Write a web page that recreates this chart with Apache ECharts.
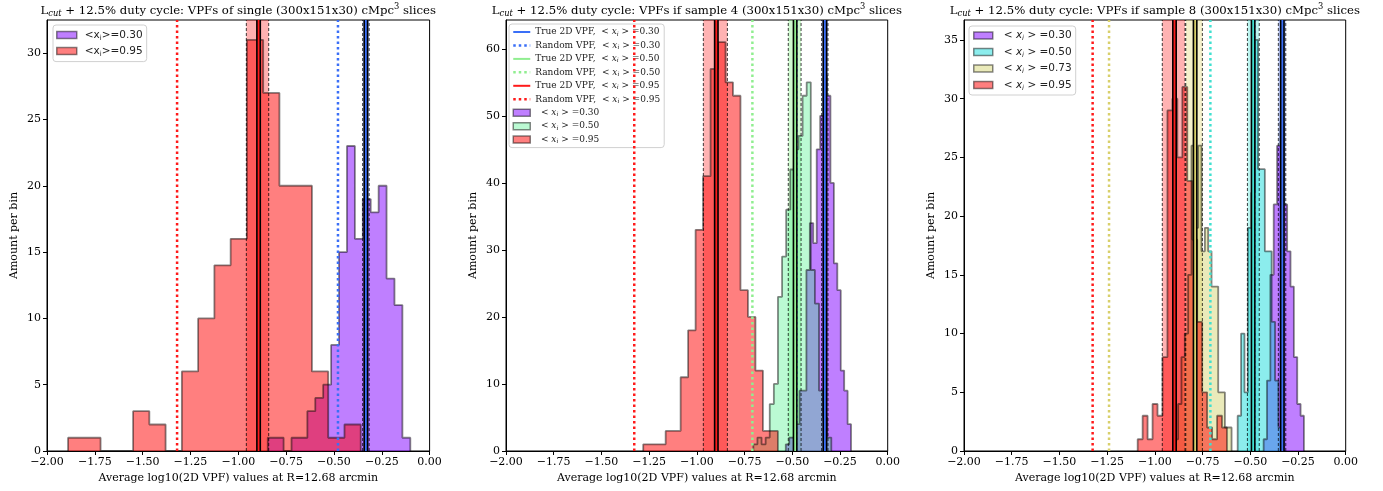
<!DOCTYPE html>
<html><head><meta charset="utf-8">
<script src="https://cdn.jsdelivr.net/npm/echarts@6/dist/echarts.min.js"></script>
<style>html,body{margin:0;padding:0;background:#fff}#c{width:1383px;height:491px}</style>
</head><body><div id="c"></div>
<script>
// ------------------------- DATA -------------------------
const xTicks = [-2, -1.75, -1.5, -1.25, -1, -0.75, -0.5, -0.25, 0];
const p1YTicks = [0, 5, 10, 15, 20, 25, 30];
const p2YTicks = [0, 10, 20, 30, 40, 50, 60];
const p3YTicks = [0, 5, 10, 15, 20, 25, 30, 35];
const yMax = [32.5, 64.3, 36.7];

// panel 1 histograms: [first bin edge, bin width], counts
const p1Hist30Bins = [-0.846, 0.0414];
const p1Hist30 = [1, 1, 0, 1, 1, 3, 4, 5, 8, 15, 23, 16, 19, 18, 20, 13, 11, 1];
const p1Hist95Bins = [-1.89, 0.085];
const p1Hist95 = [1, 1, 0, 0, 3, 2, 0, 6, 10, 14, 16, 31, 27, 20, 20, 6, 1, 2];

// panel 2 histograms
const p2Hist30Bins = [-0.534, 0.018];
const p2Hist30 = [1, 2, 2, 4, 9, 9, 27, 34, 31, 45, 50, 56, 53, 40, 28, 24, 12, 9, 4];
const p2Hist50Bins = [-0.704, 0.0215];
const p2Hist50 = [1, 2, 1, 2, 7, 10, 23, 29, 36, 42, 45, 47, 53, 55, 27, 22, 9, 5, 2];
const p2Hist95Bins = [-1.281, 0.0392];
const p2Hist95 = [1, 1, 1, 3, 3, 11, 18, 33, 41, 57, 61, 55, 53, 24, 20, 12, 3, 3];

// panel 3 histograms
const p3Hist30Bins = [-0.430, 0.0176];
const p3Hist30 = [1, 6, 15, 21, 26, 28, 21, 17, 14, 8, 4, 3];
const p3Hist50Bins = [-0.566, 0.0178];
const p3Hist50 = [3, 10, 5, 19, 22, 35, 24, 24, 17, 17, 11, 6, 2];
const p3Hist73Bins = [-0.8955, 0.0175];
const p3Hist73 = [1, 4, 8, 10, 15, 26, 19, 26, 17, 19, 17, 14, 14, 5, 5, 2, 2];
const p3Hist95Bins = [-1.090, 0.026];
const p3Hist95 = [1, 3, 1, 4, 3, 8, 29, 30, 25, 31, 23, 18, 11, 5, 2, 1, 3, 2];

// vertical lines: true 2D VPF mean, its spread [low, high], random VPF
const p1True = {x30: -0.333, x95: -0.894};
const p1Spread = {x30: [-0.350, -0.316], x95: [-0.958, -0.841]};
const p1Random = {x30: -0.479, x95: -1.320};

const p2True = {x30: -0.329, x50: -0.485, x95: -0.898};
const p2Spread = {x30: [-0.346, -0.313], x50: [-0.521, -0.454], x95: [-0.966, -0.840]};
const p2Random = {x30: -0.479, x50: -0.709, x95: -1.328};

const p3True = {x30: -0.332, x50: -0.485, x73: -0.789, x95: -0.897};
const p3Spread = {x30: [-0.353, -0.314], x50: [-0.515, -0.453], x73: [-0.838, -0.751], x95: [-0.961, -0.842]};
const p3Random = {x30: -0.479, x50: -0.709, x73: -1.240, x95: -1.326};

// ------------------------- STYLE -------------------------
const SERIF = 'DejaVu Serif';
const SANS = 'DejaVu Sans';
const EDGE = 'rgba(0,0,0,0.47)';
const C = {
  h30: 'rgba(128,0,255,0.5)', h95: 'rgba(255,0,0,0.5)', h50g: 'rgba(60,240,130,0.35)',
  h50c: 'rgba(0,215,215,0.45)', h73: 'rgba(190,190,40,0.32)',
  l30: '#3a6ff7', l50g: '#90ee90', l95: '#ff1a1a', l50c: '#40e0d0', l73: '#d8cf6a',
  b30: 'rgba(40,90,255,0.3)', b95: 'rgba(255,0,0,0.3)', b50g: 'rgba(120,240,120,0.35)',
  b50c: 'rgba(64,224,208,0.35)', b73: 'rgba(225,215,110,0.35)'
};

const grids = [
  {left: 47, top: 20, width: 382.6, height: 431},
  {left: 506, top: 20, width: 381.7, height: 431},
  {left: 964, top: 20, width: 381.7, height: 431}
];

function tickLabel(v) { return (v < -1e-9 ? '\u2212' : '') + Math.abs(v).toFixed(2); }

function histPoints(bins, counts) {
  const s = bins[0], w = bins[1], n = counts.length;
  const pts = [[s, 0]];
  counts.forEach((c, i) => pts.push([s + i * w, c]));
  pts.push([s + n * w, counts[n - 1]]);
  pts.push([s + n * w, 0]);
  return pts;
}
function hist(name, g, bins, counts, fill) {
  return {type: 'line', name, xAxisIndex: g, yAxisIndex: g, data: histPoints(bins, counts), step: 'end',
    symbol: 'none', showSymbol: false, silent: true, z: 2, animation: false,
    lineStyle: {color: EDGE, width: 1.8}, areaStyle: {color: fill, opacity: 1}};
}
function vline(name, g, x, color, width, type, z) {
  return {type: 'line', name, xAxisIndex: g, yAxisIndex: g, data: [[x, 0], [x, yMax[g]]], symbol: 'none',
    showSymbol: false, silent: true, z: z, animation: false, lineStyle: {color, width, type, cap: 'butt'}};
}
function band(g, r, color) {
  return {type: 'line', xAxisIndex: g, yAxisIndex: g, data: [], silent: true, z: 3, animation: false,
    markArea: {silent: true, animation: false, itemStyle: {color}, data: [[{xAxis: r[0]}, {xAxis: r[1]}]]}};
}
function spreadLines(g, r) {
  return [vline('', g, r[0], 'rgba(0,0,0,0.75)', 1, [3, 2], 4), vline('', g, r[1], 'rgba(0,0,0,0.75)', 1, [3, 2], 4)];
}
function trueLine(name, g, x, color) {
  return [vline('', g, x, '#000', 5, 'solid', 6), vline(name, g, x, color, 1.8, 'solid', 7)];
}
const DOT = [2.5, 3];

const series = [];
// panel 1
series.push(hist('p1h30', 0, p1Hist30Bins, p1Hist30, C.h30));
series.push(hist('p1h95', 0, p1Hist95Bins, p1Hist95, C.h95));
series.push(band(0, p1Spread.x30, C.b30), band(0, p1Spread.x95, C.b95));
series.push(...spreadLines(0, p1Spread.x30), ...spreadLines(0, p1Spread.x95));
series.push(vline('p1r30', 0, p1Random.x30, C.l30, 2.5, DOT, 5), vline('p1r95', 0, p1Random.x95, C.l95, 2.5, DOT, 5));
series.push(...trueLine('p1t30', 0, p1True.x30, C.l30), ...trueLine('p1t95', 0, p1True.x95, C.l95));
// panel 2
series.push(hist('p2h30', 1, p2Hist30Bins, p2Hist30, C.h30));
series.push(hist('p2h50', 1, p2Hist50Bins, p2Hist50, C.h50g));
series.push(hist('p2h95', 1, p2Hist95Bins, p2Hist95, C.h95));
series.push(band(1, p2Spread.x30, C.b30), band(1, p2Spread.x50, C.b50g), band(1, p2Spread.x95, C.b95));
series.push(...spreadLines(1, p2Spread.x30), ...spreadLines(1, p2Spread.x50), ...spreadLines(1, p2Spread.x95));
series.push(vline('p2r30', 1, p2Random.x30, C.l30, 2.5, DOT, 5), vline('p2r50', 1, p2Random.x50, C.l50g, 2.5, DOT, 5), vline('p2r95', 1, p2Random.x95, C.l95, 2.5, DOT, 5));
series.push(...trueLine('p2t30', 1, p2True.x30, C.l30), ...trueLine('p2t50', 1, p2True.x50, C.l50g), ...trueLine('p2t95', 1, p2True.x95, C.l95));
// panel 3
series.push(hist('p3h30', 2, p3Hist30Bins, p3Hist30, C.h30));
series.push(hist('p3h50', 2, p3Hist50Bins, p3Hist50, C.h50c));
series.push(hist('p3h73', 2, p3Hist73Bins, p3Hist73, C.h73));
series.push(hist('p3h95', 2, p3Hist95Bins, p3Hist95, C.h95));
series.push(band(2, p3Spread.x30, C.b30), band(2, p3Spread.x50, C.b50c), band(2, p3Spread.x73, C.b73), band(2, p3Spread.x95, C.b95));
series.push(...spreadLines(2, p3Spread.x30), ...spreadLines(2, p3Spread.x50), ...spreadLines(2, p3Spread.x73), ...spreadLines(2, p3Spread.x95));
series.push(vline('p3r30', 2, p3Random.x30, C.l30, 2.5, DOT, 5), vline('p3r50', 2, p3Random.x50, C.l50c, 2.5, DOT, 5),
  vline('p3r73', 2, p3Random.x73, C.l73, 2.5, DOT, 5), vline('p3r95', 2, p3Random.x95, C.l95, 2.5, DOT, 5));
series.push(...trueLine('p3t30', 2, p3True.x30, C.l30), ...trueLine('p3t50', 2, p3True.x50, C.l50c),
  ...trueLine('p3t73', 2, p3True.x73, C.l73), ...trueLine('p3t95', 2, p3True.x95, C.l95));

const yTicksAll = [p1YTicks, p2YTicks, p3YTicks];
const xAxes = grids.map((g, i) => ({
  type: 'value', gridIndex: i, min: -2, max: 0, interval: 0.25,
  axisLine: {show: true, onZero: false, lineStyle: {color: '#000', width: 1}},
  axisTick: {show: true, length: 4, lineStyle: {color: '#000'}, customValues: xTicks},
  axisLabel: {customValues: xTicks, formatter: tickLabel, fontFamily: SERIF, fontSize: 11, color: '#000', margin: 6},
  splitLine: {show: false},
  name: 'Average log10(2D VPF) values at R=12.68 arcmin', nameLocation: 'middle', nameGap: 21,
  nameTextStyle: {fontFamily: SERIF, fontSize: 11, color: '#000'}
}));
const yAxes = grids.map((g, i) => ({
  type: 'value', gridIndex: i, min: 0, max: yMax[i],
  axisLine: {show: true, onZero: false, lineStyle: {color: '#000', width: 1}},
  axisTick: {show: true, length: 4, lineStyle: {color: '#000'}, customValues: yTicksAll[i]},
  axisLabel: {customValues: yTicksAll[i], fontFamily: SERIF, fontSize: 11, color: '#000', margin: 6},
  splitLine: {show: false},
  name: 'Amount per bin', nameLocation: 'middle', nameGap: 27,
  nameTextStyle: {fontFamily: SERIF, fontSize: 11, color: '#000'}
}));

const titleRich = {
  n: {fontFamily: SERIF, fontSize: 11.7, fontWeight: 'normal', color: '#000', lineHeight: 15},
  s: {fontFamily: SERIF, fontSize: 8.3, fontStyle: 'italic', fontWeight: 'normal', color: '#000', lineHeight: 8, verticalAlign: 'bottom'},
  p: {fontFamily: SERIF, fontSize: 8.3, fontWeight: 'normal', color: '#000', lineHeight: 9, verticalAlign: 'top'}
};
const titleTexts = [
  '{n|L}{s|cut}{n| + 12.5% duty cycle: VPFs of single (300x151x30) cMpc}{p|3}{n| slices}',
  '{n|L}{s|cut}{n| + 12.5% duty cycle: VPFs if sample 4 (300x151x30) cMpc}{p|3}{n| slices}',
  '{n|L}{s|cut}{n| + 12.5% duty cycle: VPFs if sample 8 (300x151x30) cMpc}{p|3}{n| slices}'
];
const titles = grids.map((g, i) => ({
  text: titleTexts[i], left: g.left + g.width / 2, top: 3, textAlign: 'center', padding: 0,
  textStyle: {fontWeight: 'normal', fontFamily: SERIF, fontSize: 11.7, rich: titleRich}
}));

// legend labels
const L = {
  p1h30: '{g|}{a|<x}{s|i}{a|>=0.30}', p1h95: '{g|}{a|<x}{s|i}{a|>=0.95}',
  p2t30: 'True 2D VPF,  < {x|x}{s|i} > =0.30', p2r30: 'Random VPF,  < {x|x}{s|i} > =0.30',
  p2t50: 'True 2D VPF,  < {x|x}{s|i} > =0.50', p2r50: 'Random VPF,  < {x|x}{s|i} > =0.50',
  p2t95: 'True 2D VPF,  < {x|x}{s|i} > =0.95', p2r95: 'Random VPF,  < {x|x}{s|i} > =0.95',
  p2h30: '  < {x|x}{s|i} > =0.30', p2h50: '  < {x|x}{s|i} > =0.50', p2h95: '  < {x|x}{s|i} > =0.95',
  p3h30: '{g|}{a|< }{x|x}{s|i}{a| > =0.30}', p3h50: '{g|}{a|< }{x|x}{s|i}{a| > =0.50}',
  p3h73: '{g|}{a|< }{x|x}{s|i}{a| > =0.73}', p3h95: '{g|}{a|< }{x|x}{s|i}{a| > =0.95}'
};
function patch(name, fill) { return {name, icon: 'rect', itemStyle: {color: fill, borderColor: EDGE, borderWidth: 1.5}}; }
function lineItem(name, w, dash) { return {name, itemStyle: {opacity: 0}, lineStyle: {width: w, type: dash}}; }
const legBase = {orient: 'vertical', selectedMode: false, backgroundColor: 'rgba(255,255,255,0.8)',
  borderColor: '#d0d0d0', borderWidth: 1, borderRadius: 3, formatter: n => L[n]};

const legends = [
  Object.assign({}, legBase, {left: 53, top: 25, padding: [4, 4, 4, 3], itemGap: 3.6, itemWidth: 20, itemHeight: 7,
    data: [patch('p1h30', C.h30), patch('p1h95', C.h95)],
    textStyle: {color: '#222', rich: {
      g: {width: 3}, a: {fontFamily: SANS, fontSize: 10.5, lineHeight: 13, color: '#222'},
      s: {fontFamily: SANS, fontSize: 7, lineHeight: 7, verticalAlign: 'bottom', color: '#222'}}}}),
  Object.assign({}, legBase, {left: 509, top: 24, padding: [3, 4, 3, 3], itemGap: 3.45, itemWidth: 17, itemHeight: 7,
    data: [lineItem('p2t30', 2, 'solid'), lineItem('p2r30', 2.5, DOT), lineItem('p2t50', 2, 'solid'), lineItem('p2r50', 2.5, DOT),
      lineItem('p2t95', 2, 'solid'), lineItem('p2r95', 2.5, DOT), patch('p2h30', C.h30), patch('p2h50', C.h50g), patch('p2h95', C.h95)],
    textStyle: {color: '#222', fontFamily: SERIF, fontSize: 9, lineHeight: 10, rich: {
      x: {fontFamily: SERIF, fontStyle: 'italic', fontSize: 9, lineHeight: 10, color: '#222'},
      s: {fontFamily: SERIF, fontStyle: 'italic', fontSize: 6, lineHeight: 6, verticalAlign: 'bottom', color: '#222'}}}}),
  Object.assign({}, legBase, {left: 969, top: 26, padding: [3.5, 4, 3.5, 4], itemGap: 4, itemWidth: 19, itemHeight: 7,
    data: [patch('p3h30', C.h30), patch('p3h50', C.h50c), patch('p3h73', C.h73), patch('p3h95', C.h95)],
    textStyle: {color: '#222', rich: {
      g: {width: 6}, a: {fontFamily: SANS, fontSize: 10.5, lineHeight: 13, color: '#222'},
      x: {fontFamily: SANS, fontStyle: 'italic', fontSize: 10.5, lineHeight: 13, color: '#222'},
      s: {fontFamily: SANS, fontStyle: 'italic', fontSize: 7, lineHeight: 7, verticalAlign: 'bottom', color: '#222'}}}})
];

const chart = echarts.init(document.getElementById('c'), null, {renderer: 'canvas'});
chart.setOption({
  animation: false,
  backgroundColor: '#fff',
  title: titles,
  legend: legends,
  grid: grids.map(g => Object.assign({show: true, borderColor: '#000', borderWidth: 1, backgroundColor: 'transparent', containLabel: false}, g)),
  xAxis: xAxes,
  yAxis: yAxes,
  series
});
</script></body></html>
